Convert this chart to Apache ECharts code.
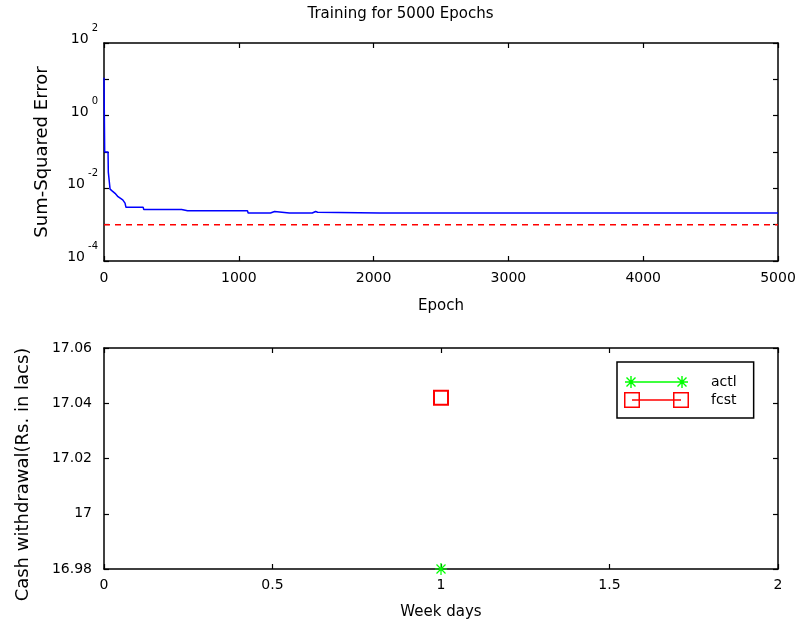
<!DOCTYPE html>
<html><head><meta charset="utf-8">
<script src="https://cdn.jsdelivr.net/npm/echarts@6/dist/echarts.min.js"></script>
<style>html,body{margin:0;padding:0;background:#fff}#c{width:801px;height:625px}</style>
</head><body><div id="c"></div>
<script>
// ---- data ----
const epochs = [0, 5, 30, 32, 42, 45, 60, 82, 104, 139, 156, 163, 291, 295, 576, 580, 620, 623, 628, 650, 653, 658,
  800, 803, 808, 1065, 1069, 1100, 1107, 1115, 1235, 1240, 1265, 1270, 1375, 1380, 1385, 1545, 1552, 1570, 1585, 1595,
  2045, 2048, 2052, 2550, 2553, 2556, 2720, 2723, 2726, 3403, 3406, 3409, 4590, 4593, 4596, 5000];
const sse = [11, 0.1, 0.1, 0.028, 0.028, 0.0095, 0.0085, 0.0073, 0.0059, 0.0048, 0.0039, 0.0030, 0.0030, 0.0026, 0.0026, 0.0024, 0.0024, 0.0026, 0.0024, 0.0024, 0.0026, 0.0024,
  0.0024, 0.0026, 0.0024, 0.0024, 0.0021, 0.0021, 0.0023, 0.0021, 0.0021, 0.0023, 0.0023, 0.0021, 0.0021, 0.0023, 0.0021, 0.0021, 0.0023, 0.0023, 0.0022, 0.0021,
  0.0021, 0.0023, 0.0021, 0.0021, 0.0023, 0.0021, 0.0021, 0.0023, 0.0021, 0.0021, 0.0023, 0.0021, 0.0021, 0.0023, 0.0021, 0.0021];
const goalEpochs = [0, 5000];
const goalSse = [0.001, 0.001];
const labelledExponents = [2, 0, -2, -4];

const weekDays = [1];
const actl = [16.98];
const fcst = [17.042];
const seriesNames = ['actl', 'fcst'];

// ---- styling helpers ----
const FONT = 'DejaVu Sans';
function bar(ax, ay, bx, by, t) {
  const len = Math.hypot(bx - ax, by - ay), dx = (bx - ax) / len, dy = (by - ay) / len;
  const ox = dy * t / 2, oy = -dx * t / 2;
  return `M${ax + ox},${ay + oy}L${bx + ox},${by + oy}L${bx - ox},${by - oy}L${ax - ox},${ay - oy}Z`;
}
function star(cx, cy, r, t) {
  const d = r * 0.75;
  return bar(cx - r, cy, cx + r, cy, t) + bar(cx, cy - r, cx, cy + r, t) +
    bar(cx - d, cy - d, cx + d, cy + d, t) + bar(cx + d, cy - d, cx - d, cy + d, t);
}
function hollowSquare(x, y, s, w) {
  return `M${x},${y}L${x + s},${y}L${x + s},${y + s}L${x},${y + s}Z` +
    `M${x + w},${y + w}L${x + w},${y + s - w}L${x + s - w},${y + s - w}L${x + s - w},${y + w}Z`;
}
const starSymbol = 'path://' + star(7, 7, 7, 1.4);
const actlIcon = 'path://' + star(7, 8, 6, 1.4) + bar(7, 8, 58, 8, 1.5) + star(58, 8, 6, 1.4) + 'M0,0L0.01,0L0.01,0.01Z M65,16L64.99,16L64.99,15.99Z';
const fcstIcon = 'path://' + hollowSquare(0, 0, 16, 1.5) + bar(8, 8, 57, 8, 1.5) + hollowSquare(49, 0, 16, 1.5);

const axisLine = { show: true, onZero: false, lineStyle: { color: '#000', width: 1.5 } };
const axisTick = { show: true, inside: true, length: 5, lineStyle: { color: '#000', width: 1.2 } };
const labelStyle = { color: '#000', fontFamily: FONT, fontSize: 14 };
const plainNumber = v => String(+v.toFixed(6));

function frame(extra) {
  return Object.assign({ axisLine, axisTick, splitLine: { show: false }, axisLabel: Object.assign({}, labelStyle) }, extra);
}

const logY = {
  type: 'log', logBase: 10, min: 1e-4, max: 1e2, splitNumber: 6
};

const option = {
  backgroundColor: '#fff',
  animation: false,
  title: {
    text: 'Training for 5000 Epochs', left: 'center', top: 2, padding: [5, 0, 5, 82],
    textStyle: { fontFamily: FONT, fontSize: 15, fontWeight: 'normal', color: '#000' }
  },
  grid: [
    { left: 104, top: 43, width: 674, height: 218 },
    { left: 104, top: 348, width: 674, height: 221 }
  ],
  legend: {
    orient: 'vertical', left: 617, top: 362, padding: [12, 17, 10, 7],
    itemWidth: 65, itemHeight: 16, itemGap: 2,
    borderColor: '#000', borderWidth: 1.5, backgroundColor: '#fff', selectedMode: false,
    textStyle: { fontFamily: FONT, fontSize: 14, color: '#000', padding: [0, 0, 0, 17] },
    data: [
      { name: seriesNames[0], icon: actlIcon, itemStyle: { color: '#00ff00', borderWidth: 0 } },
      { name: seriesNames[1], icon: fcstIcon, itemStyle: { color: '#ff0000', borderWidth: 0 } }
    ]
  },
  xAxis: [
    frame({ gridIndex: 0, type: 'value', min: 0, max: 5000, interval: 1000, position: 'bottom',
      axisLabel: Object.assign({}, labelStyle, { margin: 10, formatter: plainNumber }),
      name: 'Epoch', nameLocation: 'middle', nameGap: 38,
      nameTextStyle: { fontFamily: FONT, fontSize: 15, color: '#000' } }),
    frame({ gridIndex: 0, type: 'value', min: 0, max: 5000, interval: 1000, position: 'top', axisLabel: { show: false } }),
    frame({ gridIndex: 1, type: 'value', min: 0, max: 2, interval: 0.5, position: 'bottom',
      axisLabel: Object.assign({}, labelStyle, { margin: 9, formatter: plainNumber }),
      name: 'Week days', nameLocation: 'middle', nameGap: 36,
      nameTextStyle: { fontFamily: FONT, fontSize: 15, color: '#000' } }),
    frame({ gridIndex: 1, type: 'value', min: 0, max: 2, interval: 0.5, position: 'top', axisLabel: { show: false } })
  ],
  yAxis: [
    frame(Object.assign({ gridIndex: 0, position: 'left',
      name: 'Sum-Squared Error', nameLocation: 'middle', nameGap: 53,
      nameTextStyle: { fontFamily: FONT, fontSize: 18, color: '#000' },
      axisLabel: {
        margin: 6, padding: [0, 0, 16, 0],
        formatter: function (v) {
          const e = Math.round(Math.log10(v));
          return labelledExponents.indexOf(e) >= 0 ? '{b|10}{e|' + e + '}' : '';
        },
        rich: {
          b: { fontFamily: FONT, fontSize: 14, color: '#000', lineHeight: 16, verticalAlign: 'bottom' },
          e: { fontFamily: FONT, fontSize: 10, color: '#000', lineHeight: 23, verticalAlign: 'top', padding: [0, 0, 0, 3] }
        }
      } }, logY)),
    frame(Object.assign({ gridIndex: 0, position: 'right', axisLabel: { show: false } }, logY)),
    frame({ gridIndex: 1, type: 'value', min: 16.98, max: 17.06, interval: 0.02, position: 'left',
      axisLabel: Object.assign({}, labelStyle, { margin: 12, formatter: plainNumber }),
      name: 'Cash withdrawal(Rs. in lacs)', nameLocation: 'middle', nameGap: 72,
      nameTextStyle: { fontFamily: FONT, fontSize: 18, color: '#000', padding: [0, 32, 0, 0] } }),
    frame({ gridIndex: 1, type: 'value', min: 16.98, max: 17.06, interval: 0.02, position: 'right', axisLabel: { show: false } })
  ],
  series: [
    { type: 'line', xAxisIndex: 0, yAxisIndex: 0, showSymbol: false, silent: true,
      data: epochs.map((e, i) => [e, sse[i]]),
      lineStyle: { color: '#0000ff', width: 1.5 } },
    { type: 'line', xAxisIndex: 0, yAxisIndex: 0, showSymbol: false, silent: true,
      data: goalEpochs.map((e, i) => [e, goalSse[i]]),
      lineStyle: { color: '#ff0000', width: 1.5, type: [6, 5] } },
    { name: seriesNames[0], type: 'line', xAxisIndex: 2, yAxisIndex: 2, clip: false, showAllSymbol: true,
      symbol: starSymbol, symbolSize: 12,
      data: weekDays.map((d, i) => [d, actl[i]]),
      itemStyle: { color: '#00ff00', borderWidth: 0 }, lineStyle: { color: '#00ff00', width: 1.5 } },
    { name: seriesNames[1], type: 'line', xAxisIndex: 2, yAxisIndex: 2, clip: false, showAllSymbol: true,
      symbol: 'emptyRect', symbolSize: 14,
      data: weekDays.map((d, i) => [d, fcst[i]]),
      itemStyle: { color: '#ff0000', borderWidth: 1.5 }, lineStyle: { color: '#ff0000', width: 1.2 } }
  ]
};
const chart = echarts.init(document.getElementById('c'), null, { renderer: 'canvas' });
chart.setOption(option);
</script></body></html>
